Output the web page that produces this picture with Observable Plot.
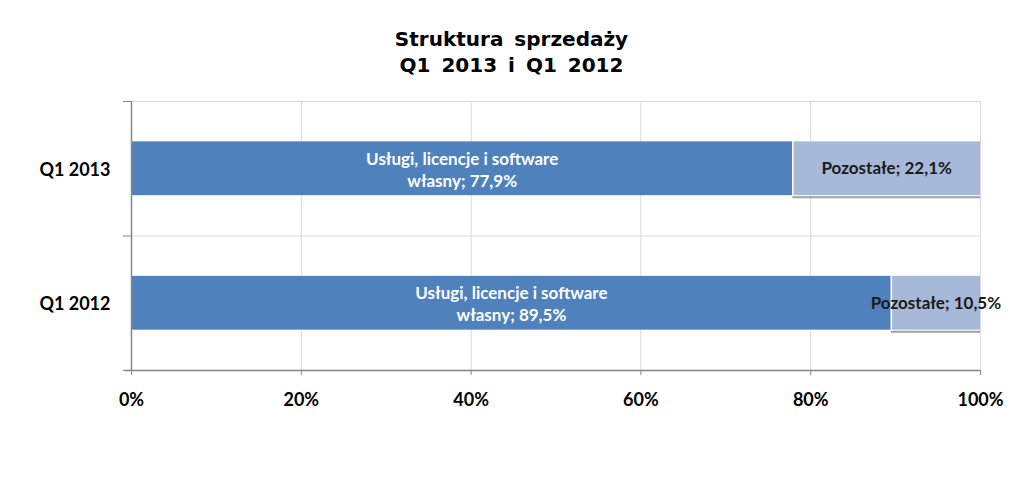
<!DOCTYPE html>
<html><head><meta charset="utf-8">
<script src="https://cdn.jsdelivr.net/npm/d3@7"></script>
<script src="https://cdn.jsdelivr.net/npm/@observablehq/plot@0.6"></script>
<style>
body{margin:0;background:#fff;}
#title{height:80px;box-sizing:border-box;padding-top:26px;text-align:center;font:bold 20px "DejaVu Sans",sans-serif;line-height:26px;color:#000;word-spacing:4px;}
</style></head><body>
<div id="title">Struktura sprzedaży<br>Q1 2013 i Q1 2012</div>
<div id="chart"></div>
<script>
const categories = ["Q1 2013", "Q1 2012"];
const seriesNames = ["Usługi, licencje i software własny", "Pozostałe"];
const uslugi = [77.9, 89.5];
const pozostale = [22.1, 10.5];
const xTicks = [0, 20, 40, 60, 80, 100];
const colors = ["#4F81BD", "#A7B9D9"];

const fmt = v => v.toFixed(1).replace(".", ",") + "%";
const rows = [];
categories.forEach((c, i) => {
  const vals = [uslugi[i], pozostale[i]];
  let s = 0;
  vals.forEach((v, k) => {
    rows.push({cat: c, i, series: seriesNames[k], k, start: s, end: s + v, value: v});
    s += v;
  });
});
const first = rows.filter(d => d.k === 0);
const second = rows.filter(d => d.k === 1);

const chart = Plot.plot({
  width: 1023, height: 408,
  marginTop: 21, marginBottom: 118, marginLeft: 131, marginRight: 43,
  style: {fontFamily: "Lato, sans-serif", background: "white"},
  x: {domain: [0, 100]},
  y: {domain: [0, categories.length], reverse: true},
  color: {domain: seriesNames, range: colors},
  marks: [
    Plot.gridX(xTicks, {stroke: "#d9d9d9", strokeOpacity: 1}),
    Plot.gridY(d3.range(categories.length), {stroke: "#d9d9d9", strokeOpacity: 1}),
    Plot.ruleY(second, {y: d => d.i + 0.7, x1: "start", x2: "end", stroke: "#a0a0a0", strokeWidth: 2, dy: 1.5}),
    Plot.rect(rows, {x1: "start", x2: "end", y1: d => d.i + 0.3, y2: d => d.i + 0.7, fill: "series"}),
    Plot.ruleX(second, {x: "start", y1: d => d.i + 0.3, y2: d => d.i + 0.7, stroke: "white", strokeWidth: 1.5}),
    Plot.text(first, {x: d => (d.start + d.end) / 2, y: d => d.i + 0.5,
      text: d => "Usługi, licencje i software\nwłasny; " + fmt(d.value),
      fill: "white", fontSize: 17, fontWeight: "bold", lineHeight: 1.3}),
    Plot.text(second, {x: d => (d.start + d.end) / 2, y: d => d.i + 0.5,
      text: d => "Pozostałe; " + fmt(d.value),
      fill: "#1a1a1a", fontSize: 17, fontWeight: "bold"}),
    Plot.axisX(xTicks, {tickFormat: d => d + "%", tickSize: 5, tickPadding: 18, fontSize: 18, fontWeight: "bold", stroke: "#868686", fill: "#000"}),
    Plot.axisY(d3.range(categories.length + 1), {tickFormat: () => "", tickSize: 8, stroke: "#868686"}),
    Plot.axisY(categories.map((c, i) => i + 0.5), {tickFormat: d => categories[Math.floor(d)], tickSize: 0, tickPadding: 21, fontSize: 18, fontWeight: "bold", fill: "#000", dy: 1}),
    Plot.ruleX([0], {stroke: "#868686", strokeWidth: 1.5}),
    Plot.ruleY([categories.length], {x1: -0.7, x2: 100, stroke: "#868686", strokeWidth: 1.5})
  ]
});
document.getElementById("chart").appendChild(chart);
</script>
</body></html>
